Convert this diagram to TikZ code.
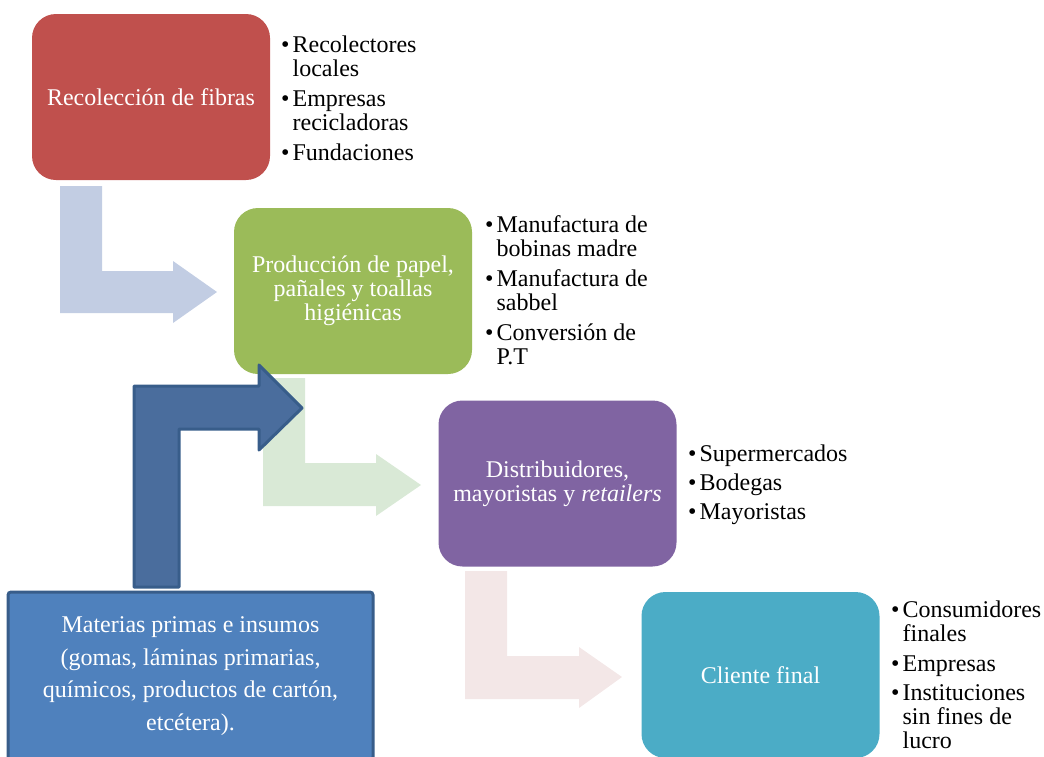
\documentclass[tikz,border=0pt]{standalone}
\usepackage{fontspec}
\setmainfont{Liberation Serif}
\definecolor{rojo}{HTML}{C0504D}
\definecolor{verde}{HTML}{9BBB59}
\definecolor{morado}{HTML}{8064A2}
\definecolor{turquesa}{HTML}{4BACC6}
\definecolor{azul}{HTML}{4F81BD}
\definecolor{azulborde}{HTML}{385D8A}
\definecolor{azulflecha}{HTML}{4A6D9D}
\definecolor{flechaazul}{HTML}{C2CDE3}
\definecolor{flechaverde}{HTML}{D9E9D6}
\definecolor{flecharosa}{HTML}{F3E7E7}
\newcommand\vineta{\textbullet\hspace{3pt}}
\newcommand\sangria{\phantom{\textbullet}\hspace{3pt}}
\begin{document}
\begin{tikzpicture}[x=1pt,y=-1pt,
    etapa/.style={rounded corners=24pt,minimum width=238pt,minimum height=166pt,
      inner sep=0pt,text=white,align=center,font=\fontsize{24}{24}\selectfont},
    lista/.style={anchor=north west,align=left,inner sep=0pt,
      font=\fontsize{24}{24}\selectfont}]
  \clip (0,0) rectangle (1044,756);
  % flechas claras
  \fill[flechaazul] (60,186) -- (102,186) -- (102,271) -- (173,271) -- (173,261)
    -- (217,292) -- (173,323) -- (173,313) -- (60,313) -- cycle;
  \fill[flechaverde] (263,378) -- (305,378) -- (305,463) -- (376,463) -- (376,454)
    -- (421,485) -- (376,516) -- (376,506) -- (263,506) -- cycle;
  \fill[flecharosa] (465,571) -- (507,571) -- (507,656) -- (579,656) -- (579,647)
    -- (622,677) -- (579,708) -- (579,699) -- (465,699) -- cycle;
  % etapas
  \node[etapa,fill=rojo] (fibras) at (151,97) {Recolección de fibras};
  \node[etapa,fill=verde] (produccion) at (353,291)
    {Producción de papel,\\pañales y toallas\\higiénicas};
  \node[etapa,fill=morado] (distribuidores) at (557.5,483.5)
    {Distribuidores,\\mayoristas y \textit{retailers}};
  \node[etapa,fill=turquesa] (cliente) at (760.5,675) {Cliente final};
  \node[draw=azulborde,line width=3pt,rounded corners=3pt,fill=azul,text=white,
    minimum width=365pt,minimum height=168pt,align=center,
    font=\fontsize{24}{32.5}\selectfont] (insumos) at (190.5,676)
    {Materias primas e insumos\\(gomas, láminas primarias,\\químicos, productos de cartón,\\etcétera).};
  % flecha de insumos
  \filldraw[fill=azulflecha,draw=azulborde,line width=3pt,line join=round]
    (134,587) -- (134,386) -- (259,386) -- (259,365) -- (302,408) -- (259,450)
    -- (259,429) -- (179,429) -- (179,587) -- cycle;
  % listas
  \node[lista] (lfibras) at (281,36)
    {\vineta Recolectores\\\sangria locales\\[6pt]\vineta Empresas\\\sangria recicladoras\\[6pt]\vineta Fundaciones};
  \node[lista] (lproduccion) at (485,215.5)
    {\vineta Manufactura de\\\sangria bobinas madre\\[6pt]\vineta Manufactura de\\\sangria sabbel\\[6pt]\vineta Conversión de\\\sangria P.T};
  \node[lista] (ldistribuidores) at (688,445)
    {\vineta Supermercados\\[5pt]\vineta Bodegas\\[5pt]\vineta Mayoristas};
  \node[lista] (lcliente) at (891,601)
    {\vineta Consumidores\\\sangria finales\\[6pt]\vineta Empresas\\[5pt]\vineta Instituciones\\\sangria sin fines de\\\sangria lucro};
\end{tikzpicture}
\end{document}
